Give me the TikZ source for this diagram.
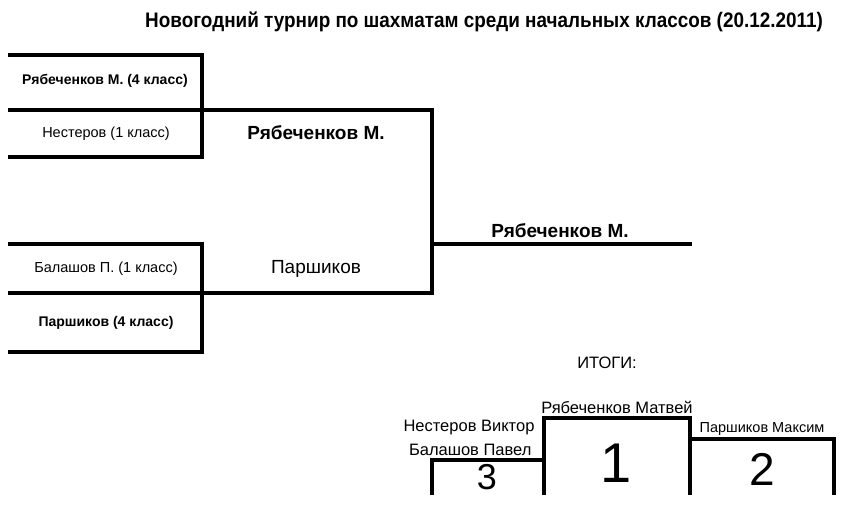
\documentclass[tikz,border=0pt]{standalone}
\usepackage{fontspec}
\setmainfont{Liberation Sans}
\begin{document}
\begin{tikzpicture}[x=1pt,y=-1pt,
  ln/.style={line width=4pt,line cap=rect},
  pl/.style={font=\fontsize{14.5}{17}\selectfont},
  pb/.style={font=\fontsize{14}{17}\selectfont\bfseries},
  win/.style={font=\fontsize{19}{22}\selectfont\bfseries},
  lab/.style={font=\fontsize{16.5}{19}\selectfont},
  num/.style={font=\fontsize{56}{60}\selectfont}]
\useasboundingbox (0,0) rectangle (854,510);
\node[font=\fontsize{21}{24}\selectfont\bfseries,xscale=0.9] (title) at (484,22) {Новогодний турнир по шахматам среди начальных классов (20.12.2011)};
% bracket
\coordinate (a1) at (10,55); \coordinate (a2) at (202,55);
\coordinate (b1) at (10,110); \coordinate (b2) at (432,110);
\coordinate (c1) at (10,157); \coordinate (c2) at (202,157);
\coordinate (d1) at (10,244); \coordinate (d2) at (202,244);
\coordinate (e1) at (10,293); \coordinate (e2) at (432,293);
\coordinate (f1) at (10,352); \coordinate (f2) at (202,352);
\coordinate (g2) at (690,244); \coordinate (g1) at (432,244);
\draw[ln] (a1) -- (a2) -- (c2) -- (c1);
\draw[ln] (b1) -- (b2) -- (e2) -- (e1);
\draw[ln] (d1) -- (d2) -- (f2) -- (f1);
\draw[ln] (g1) -- (g2);
\node[pb] (p1) at (105,81) {Рябеченков М. (4 класс)};
\node[pl] (p2) at (106,134) {Нестеров (1 класс)};
\node[pl] (p3) at (106,269) {Балашов П. (1 класс)};
\node[pb] (p4) at (106,323) {Паршиков (4 класс)};
\node[win] (w1) at (316,133) {Рябеченков М.};
\node[font=\fontsize{19}{22}\selectfont] (w2) at (316,269) {Паршиков};
\node[win] (w3) at (560,231) {Рябеченков М.};
% podium
\node[lab] (res) at (607,363) {ИТОГИ:};
\coordinate (q1) at (432,495); \coordinate (q2) at (432,460); \coordinate (q3) at (544,460);
\coordinate (q4) at (544,418); \coordinate (q5) at (690,418); \coordinate (q6) at (690,439);
\coordinate (q7) at (834,439); \coordinate (q8) at (834,495);
\coordinate (q9) at (544,495); \coordinate (q10) at (690,495);
\draw[ln,line cap=butt] (q1) -- (q2) -- (q3) -- (q4) -- (q5) -- (q6) -- (q7) -- (q8);
\draw[ln,line cap=butt] (q3) -- (q9);
\draw[ln,line cap=butt] (q6) -- (q10);
\node[font=\fontsize{36}{40}\selectfont] (n3) at (487,477) {3};
\node[num] (n1) at (616,463) {1};
\node[font=\fontsize{46}{50}\selectfont] (n2) at (762,469) {2};
\node[lab] (r1) at (617,407) {Рябеченков Матвей};
\node[lab,anchor=east] (r3a) at (538,428) {Нестеров Виктор};
\node[lab,anchor=east] (r3b) at (535,450) {Балашов Павел};
\node[pl] (r2) at (762,429) {Паршиков Максим};
\end{tikzpicture}
\end{document}
